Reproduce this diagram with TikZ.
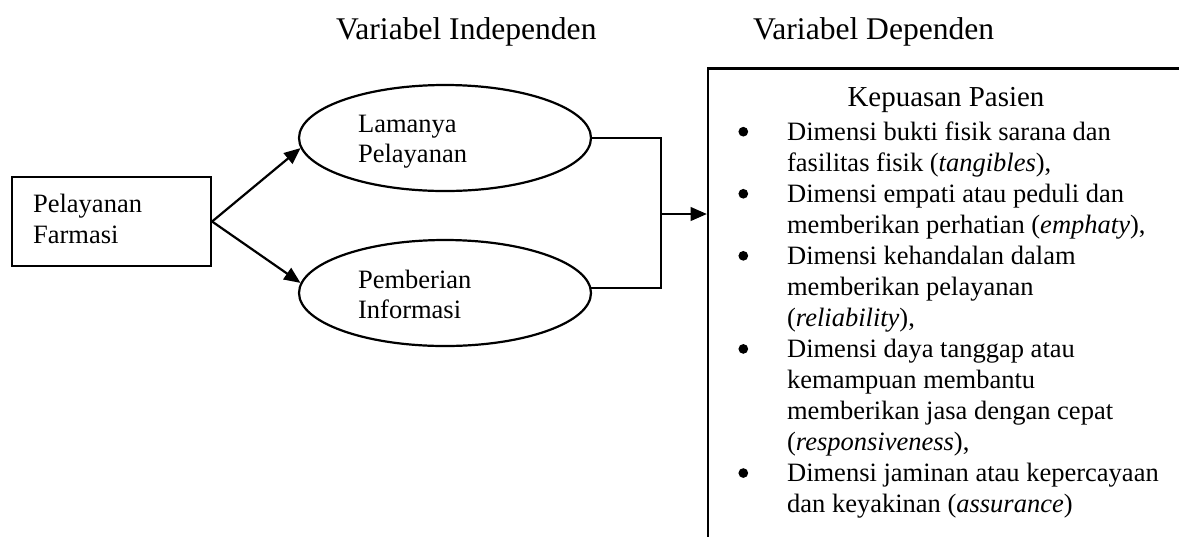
\documentclass[tikz,border=0pt]{standalone}
\usepackage{fontspec}
\setmainfont{Liberation Serif}
\usetikzlibrary{arrows.meta,shapes.geometric}
\begin{document}
\begin{tikzpicture}[x=0.4528pt,y=-0.4528pt,line width=1pt,
  txt/.style={anchor=base west,inner sep=0pt,font=\fontsize{12}{14}\selectfont},
  head/.style={anchor=base west,inner sep=0pt,font=\fontsize{14.3}{17}\selectfont},
  conn/.style={-{Triangle[length=7.4pt,width=6.2pt]}},
  bul/.style={circle,fill,inner sep=0pt,minimum size=4.4pt},
  oval/.style={ellipse,draw,inner sep=0pt,minimum width=132.2pt,minimum height=48pt}]
\useasboundingbox (0,0) rectangle (1179,536);

% column headings
\node[head] (hind) at (335,39) {Variabel Independen};
\node[head] (hdep) at (752,39) {Variabel Dependen};

% source box
\node[draw,inner sep=0pt,minimum width=90.1pt,minimum height=40.3pt] (src) at (111.5,221.5) {};
\node[txt] (src1) at (32,212.7) {Pelayanan};
\node[txt] (src2) at (32,243.3) {Farmasi};

% independent variables
\node[oval] (e1) at (445,138) {};
\node[txt] (e1a) at (357,132.7) {Lamanya};
\node[txt] (e1b) at (357,162.7) {Pelayanan};
\node[oval] (e2) at (445,293) {};
\node[txt] (e2a) at (357,288.3) {Pemberian};
\node[txt] (e2b) at (357,318.5) {Informasi};

% dependent variable box (runs past the page edge)
\node[draw,inner sep=0pt,minimum width=222.8pt,minimum height=222.6pt] (dep) at (954,314.25) {};
\node[txt,anchor=base,font=\fontsize{13.1}{15}\selectfont] (deptitle) at (946,106.7) {Kepuasan Pasien};

\foreach \i/\t in {
  1/{Dimensi bukti fisik sarana dan},
  2/{fasilitas fisik (\textit{tangibles}),},
  3/{Dimensi empati atau peduli dan},
  4/{memberikan perhatian (\textit{emphaty}),},
  5/{Dimensi kehandalan dalam},
  6/{memberikan pelayanan},
  7/{(\textit{reliability}),},
  8/{Dimensi daya tanggap atau},
  9/{kemampuan membantu},
  10/{memberikan jasa dengan cepat},
  11/{(\textit{responsiveness}),},
  12/{Dimensi jaminan atau kepercayaan},
  13/{dan keyakinan (\textit{assurance})}}{
  \pgfmathsetmacro\yy{140+31.03*(\i-1)}
  \node[txt] (line\i) at (786,\yy) {\t};
}
\foreach \i in {1,3,5,8,12}{
  \pgfmathsetmacro\yy{140+31.03*(\i-1)-8.3}
  \node[bul] (bul\i) at (743.3,\yy) {};
}

% connectors
\draw[conn] (src.east) -- (e1.184);
\draw[conn] (src.east) -- (e2.176);
\coordinate (j) at (661,214);
\draw (e1.east) -| (j);
\draw (e2.2.5) -| (j);
\draw[conn] (j) -- (j -| dep.west);
\end{tikzpicture}
\end{document}
